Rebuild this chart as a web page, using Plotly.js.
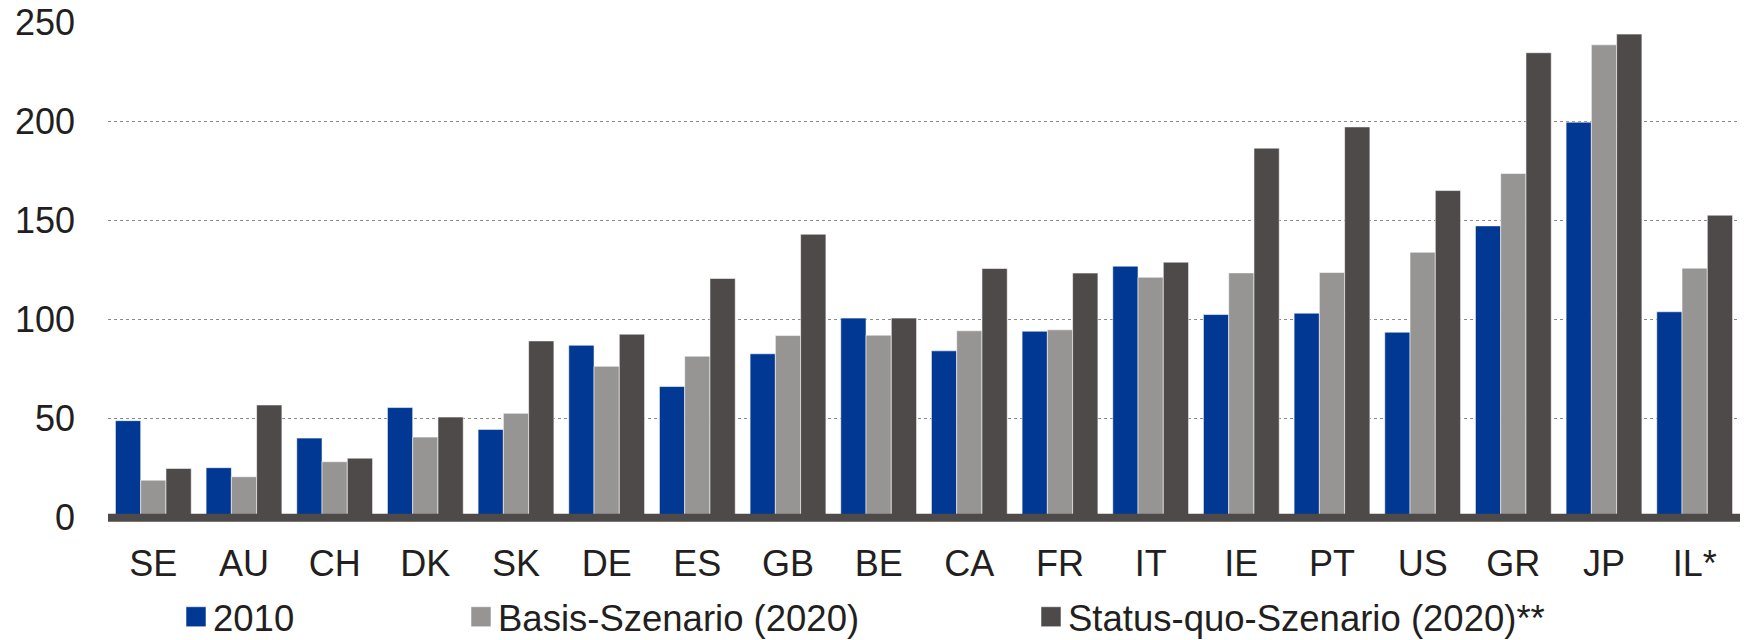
<!DOCTYPE html>
<html>
<head>
<meta charset="utf-8">
<script src="https://cdn.plot.ly/plotly-3.0.1.min.js"></script>
<style>
html,body{margin:0;padding:0;background:#fff;}
#chart{width:1746px;height:640px;}
</style>
</head>
<body>
<div id="chart"></div>
<script>
const categories = ["SE","AU","CH","DK","SK","DE","ES","GB","BE","CA","FR","IT","IE","PT","US","GR","JP","IL*"];
const seriesNames = ["2010","Basis-Szenario (2020)","Status-quo-Szenario (2020)**"];
const values2010   = [49.0, 25.3, 40.2, 55.6, 44.6, 87.0, 66.2, 82.7, 100.7, 84.2, 94.1, 126.9, 102.5, 103.2, 93.6, 147.2, 199.5, 103.9];
const valuesBasis  = [19.0, 20.7, 28.3, 40.7, 52.7, 76.4, 81.5, 91.9, 92.1, 94.3, 94.8, 121.3, 123.5, 123.7, 133.9, 173.6, 238.5, 125.9];
const valuesStatus = [24.9, 56.9, 30.1, 50.8, 89.2, 92.6, 120.7, 143.0, 100.7, 125.7, 123.4, 128.9, 186.4, 197.1, 165.0, 234.5, 243.9, 152.6];
const yTicks = [0, 50, 100, 150, 200, 250];

const colors = ["#003893", "#969594", "#4d4a49"];
const FONT = "'Liberation Sans', Arial, sans-serif";
const TXT = "#231f20";

function barTrace(name, vals, color, legendId) {
  return {
    type: "bar",
    name: name,
    x: categories,
    y: vals,
    marker: {color: color, line: {color: "rgba(255,255,255,0.55)", width: 1}},
    legend: legendId,
    hoverinfo: "x+y+name"
  };
}

const data = [
  barTrace(seriesNames[0], values2010, colors[0], "legend"),
  barTrace(seriesNames[1], valuesBasis, colors[1], "legend2"),
  barTrace(seriesNames[2], valuesStatus, colors[2], "legend3")
];

const W = 1746, H = 640;
const mL = 108, mR = 6, mT = 22, mB = 118;
const plotW = W - mL - mR, plotH = H - mT - mB;
function px2paperX(px){ return (px - mL) / plotW; }
function px2paperY(py){ return (H - mB - py) / plotH; }

const legBase = {
  orientation: "h",
  xanchor: "left",
  yanchor: "middle",
  y: px2paperY(617),
  font: {family: FONT, size: 36.5, color: TXT},
  bgcolor: "rgba(0,0,0,0)",
  borderwidth: 0,
  itemwidth: 30
};

const layout = {
  width: W,
  height: H,
  margin: {l: mL, r: mR, t: mT, b: mB, pad: 0, autoexpand: false},
  paper_bgcolor: "#ffffff",
  plot_bgcolor: "#ffffff",
  font: {family: FONT, size: 36, color: TXT},
  barmode: "group",
  bargap: 0.164,
  bargroupgap: 0,
  showlegend: true,
  legend: Object.assign({}, legBase, {x: px2paperX(173)}),
  legend2: Object.assign({}, legBase, {x: px2paperX(458)}),
  legend3: Object.assign({}, legBase, {x: px2paperX(1028)}),
  xaxis: {
    type: "category",
    automargin: false,
    showgrid: false,
    showline: false,
    zeroline: false,
    ticks: "",
    ticklabelstandoff: 17,
    tickfont: {family: FONT, size: 36, color: TXT},
    fixedrange: true
  },
  yaxis: {
    automargin: false,
    range: [-2.1, 250],
    tickvals: yTicks,
    ticktext: yTicks.map(String),
    showgrid: true,
    gridcolor: "#8a8a8a",
    gridwidth: 1,
    griddash: "dot",
    zeroline: false,
    showline: false,
    ticks: "",
    ticklabelstandoff: 32,
    tickfont: {family: FONT, size: 36, color: TXT},
    fixedrange: true
  },
  shapes: [{
    type: "line",
    xref: "paper", yref: "y",
    x0: 0, x1: 1, y0: 0, y1: 0,
    line: {color: "#4d4a49", width: 8},
    layer: "above"
  }]
};

Plotly.newPlot("chart", data, layout, {displayModeBar: false, staticPlot: true}).then(function(gd){
  // enlarge legend swatches to match the reference's larger squares
  gd.querySelectorAll(".legendpoints path").forEach(function(p){
    p.setAttribute("d", "M13,10H-7V-10H13Z");
  });
});
</script>
</body>
</html>
